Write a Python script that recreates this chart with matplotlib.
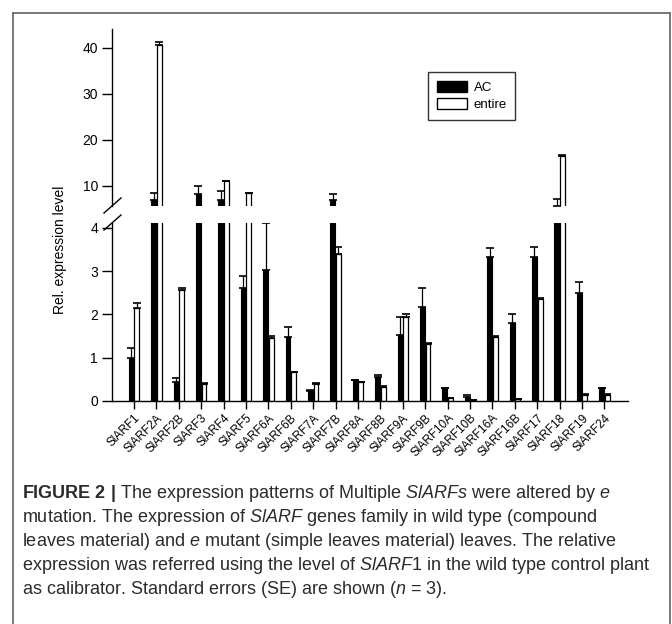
import matplotlib
matplotlib.use("Agg")
import matplotlib.pyplot as plt
import numpy as np
from matplotlib.lines import Line2D
from matplotlib.patches import Patch

genes = ["SlARF1", "SlARF2A", "SlARF2B", "SlARF3", "SlARF4", "SlARF5", "SlARF6A",
         "SlARF6B", "SlARF7A", "SlARF7B", "SlARF8A", "SlARF8B", "SlARF9A", "SlARF9B",
         "SlARF10A", "SlARF10B", "SlARF16A", "SlARF16B", "SlARF17", "SlARF18",
         "SlARF19", "SlARF24"]
ac = [1.00, 6.9, 0.44, 8.3, 7.0, 2.62, 3.02, 1.48, 0.23, 7.0, 0.48, 0.56,
      1.52, 2.18, 0.29, 0.10, 3.33, 1.81, 3.33, 5.75, 2.50, 0.30]
ac_err = [0.23, 1.6, 0.10, 1.7, 1.8, 0.26, 1.10, 0.23, 0.03, 1.3, 0.01, 0.04,
          0.43, 0.42, 0.01, 0.05, 0.21, 0.19, 0.23, 1.35, 0.25, 0.01]
entire = [2.15, 40.6, 2.57, 0.40, 11.0, 8.4, 1.45, 0.66, 0.40, 3.40, 0.43, 0.33,
          1.95, 1.32, 0.06, 0.02, 1.47, 0.04, 2.35, 16.5, 0.15, 0.15]
entire_err = [0.11, 0.6, 0.04, 0.01, 0.1, 0.1, 0.06, 0.01, 0.01, 0.15, 0.01, 0.01,
              0.07, 0.02, 0.01, 0.005, 0.02, 0.005, 0.02, 0.15, 0.01, 0.01]
upper_ticks = [10, 20, 30, 40]
lower_ticks = [0, 1, 2, 3, 4]
series_names = ["AC", "entire"]
ylabel = "Rel. expression level"

caption_lines = [
    r"$\mathbf{FIGURE\ 2\ |}$ The expression patterns of Multiple $\mathit{SlARFs}$ were altered by $\mathit{e}$",
    r"mutation. The expression of $\mathit{SlARF}$ genes family in wild type (compound",
    r"leaves material) and $\mathit{e}$ mutant (simple leaves material) leaves. The relative",
    r"expression was referred using the level of $\mathit{SlARF1}$ in the wild type control plant",
    r"as calibrator. Standard errors (SE) are shown ($\mathit{n}$ = 3).",
]

cap_font = "Liberation Sans"
plt.rcParams['font.family'] = ['Liberation Sans', 'DejaVu Sans']
plt.rcParams['mathtext.fontset'] = 'custom'
plt.rcParams['mathtext.rm'] = cap_font
plt.rcParams['mathtext.it'] = cap_font + ':italic'
plt.rcParams['mathtext.bf'] = cap_font + ':bold'

W, H = 672, 624
fig = plt.figure(figsize=(W / 100, H / 100), dpi=100)

def fx(px):
    return px / W

def fy(py):
    return 1 - py / H

x0, x1 = 112, 628
ax_up = fig.add_axes([fx(x0), fy(206), fx(x1) - fx(x0), fy(29) - fy(206)])
ax_lo = fig.add_axes([fx(x0), fy(401), fx(x1) - fx(x0), fy(223) - fy(401)])

x = np.arange(len(genes))
w = 0.22
off = 0.125
for ax in (ax_up, ax_lo):
    ax.bar(x - off, ac, width=w, color='black', edgecolor='black', linewidth=0.8, zorder=2)
    ax.bar(x + off, entire, width=w, color='white', edgecolor='black', linewidth=0.9, zorder=2)
    ax.errorbar(x - off, ac, yerr=[np.zeros(len(ac)), ac_err], fmt='none',
                ecolor='black', elinewidth=0.9, capsize=3, capthick=1.2, zorder=1)
    ax.errorbar(x + off, entire, yerr=[np.zeros(len(entire)), entire_err], fmt='none',
                ecolor='black', elinewidth=0.9, capsize=3, capthick=1.2, zorder=1)
    ax.set_xlim(-0.98, 22.05)
    for s in ('top', 'right'):
        ax.spines[s].set_visible(False)
    ax.spines['left'].set_linewidth(1.0)
    ax.tick_params(axis='y', direction='out', length=7, width=1.0, labelsize=10, pad=3)

ax_up.set_ylim(5.65, 44.1)
ax_up.set_yticks(upper_ticks)
ax_up.spines['bottom'].set_visible(False)
ax_up.set_xticks([])

ax_lo.set_ylim(0, 4.11)
ax_lo.set_yticks(lower_ticks)
ax_lo.spines['bottom'].set_linewidth(1.0)
ax_lo.set_xticks(x)
ax_lo.set_xticklabels(genes, rotation=45, ha='right', rotation_mode='anchor', fontsize=8.5)
ax_lo.tick_params(axis='x', direction='out', length=6, width=1.0, pad=2)

# break marks
for (a, b) in [((104, 213), (121, 198)), ((104, 230), (121, 215))]:
    fig.add_artist(Line2D([fx(a[0]), fx(b[0])], [fy(a[1]), fy(b[1])], color='black', lw=1.0))

fig.text(fx(60), fy(250), ylabel, rotation=90, ha='center', va='center', fontsize=10)

handles = [Patch(facecolor='black', edgecolor='black'),
           Patch(facecolor='white', edgecolor='black')]
leg = ax_up.legend(handles, series_names, loc='upper left',
                   bbox_to_anchor=((428 - x0) / (x1 - x0), (206 - 72) / (206 - 29)),
                   frameon=True, fancybox=False, fontsize=9.5, handlelength=2.3,
                   handleheight=0.95, handletextpad=0.5, borderpad=0.65, labelspacing=0.3,
                   borderaxespad=0)
leg.get_frame().set_edgecolor('black')
leg.get_frame().set_linewidth(1.0)

# outer frame
fc = '#6e6e6e'
fig.add_artist(Line2D([fx(13), fx(670)], [fy(12.5), fy(12.5)], color=fc, lw=1.3))
fig.add_artist(Line2D([fx(13), fx(13)], [fy(12.5), 0], color=fc, lw=1.3))
fig.add_artist(Line2D([fx(670), fx(670)], [fy(12.5), 0], color=fc, lw=1.3))

# caption
ys = [494, 518, 542, 566, 590]
fs = 12.0
renderer = fig.canvas.get_renderer()
probe = fig.text(fx(22), fy(ys[3]), caption_lines[3], fontsize=fs, family=cap_font)
wpx = probe.get_window_extent(renderer).width
probe.remove()
fs = fs * (650 - 22) / wpx
for line, yy in zip(caption_lines, ys):
    fig.text(fx(22), fy(yy), line, fontsize=fs, family=cap_font, color='#2b2b2b',
             ha='left', va='center')

fig.savefig("out.png", dpi=100)
